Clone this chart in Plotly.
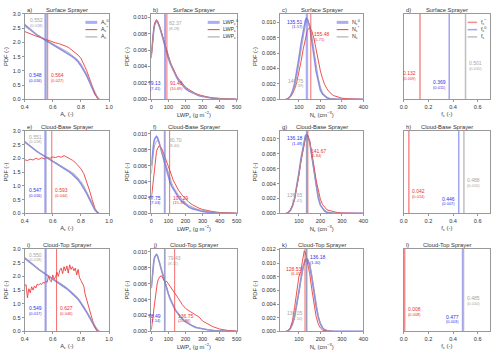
import plotly.graph_objects as go

# ---------------- data ----------------
AC_X = [0.40, 0.42, 0.44, 0.46, 0.48, 0.50, 0.52, 0.54, 0.56, 0.58, 0.60, 0.62, 0.64, 0.66,
        0.68, 0.70, 0.72, 0.74, 0.76, 0.78, 0.80, 0.82, 0.84, 0.86, 0.88, 0.90, 0.92, 0.93]
AC_SURF_0 = [2.62, 2.53, 2.45, 2.37, 2.29, 2.22, 2.16, 2.09, 2.03, 1.98, 1.93, 1.87, 1.81, 1.76,
             1.70, 1.63, 1.57, 1.50, 1.42, 1.32, 1.18, 1.03, 0.84, 0.62, 0.40, 0.18, 0.04, 0.00]
AC_SURF_S = [2.38, 2.33, 2.30, 2.26, 2.22, 2.20, 2.16, 2.12, 2.08, 2.04, 2.00, 1.98, 1.96, 1.93,
             1.89, 1.85, 1.79, 1.72, 1.65, 1.55, 1.44, 1.25, 1.02, 0.75, 0.45, 0.18, 0.04, 0.00]
AC_SURF = [2.56, 2.49, 2.42, 2.35, 2.28, 2.22, 2.16, 2.10, 2.05, 2.00, 1.95, 1.90, 1.85, 1.79,
           1.74, 1.68, 1.61, 1.54, 1.47, 1.37, 1.24, 1.09, 0.90, 0.68, 0.45, 0.22, 0.05, 0.00]
AC_BASE_0 = [2.61, 2.52, 2.44, 2.36, 2.28, 2.21, 2.14, 2.08, 2.01, 1.95, 1.89, 1.83, 1.77, 1.71,
             1.65, 1.58, 1.50, 1.42, 1.33, 1.22, 1.08, 0.92, 0.74, 0.53, 0.32, 0.12, 0.02, 0.00]
AC_BASE_S = [1.95, 1.92, 1.97, 1.94, 2.00, 1.96, 2.02, 1.98, 2.04, 2.00, 2.05, 2.03, 2.07, 2.04,
             2.10, 2.05, 1.98, 1.93, 1.85, 1.75, 1.62, 1.45, 1.18, 0.85, 0.50, 0.18, 0.03, 0.00]
AC_BASE = [2.58, 2.50, 2.43, 2.35, 2.28, 2.21, 2.15, 2.09, 2.03, 1.97, 1.92, 1.86, 1.80, 1.75,
           1.69, 1.63, 1.56, 1.48, 1.40, 1.29, 1.16, 1.00, 0.81, 0.60, 0.38, 0.16, 0.03, 0.00]
AC_TOP_0 = [2.67, 2.58, 2.49, 2.41, 2.33, 2.25, 2.18, 2.11, 2.04, 1.98, 1.92, 1.85, 1.78, 1.71,
            1.63, 1.55, 1.46, 1.37, 1.28, 1.17, 1.02, 0.87, 0.70, 0.52, 0.34, 0.15, 0.03, 0.00]
AC_TOP = [2.64, 2.56, 2.48, 2.40, 2.32, 2.25, 2.18, 2.11, 2.05, 1.99, 1.93, 1.86, 1.80, 1.73,
          1.66, 1.58, 1.50, 1.41, 1.32, 1.21, 1.07, 0.91, 0.74, 0.56, 0.37, 0.17, 0.04, 0.00]
AC_X_FINE = [0.40, 0.41, 0.42, 0.43, 0.44, 0.45, 0.46, 0.47, 0.48, 0.49, 0.50, 0.51, 0.52, 0.53,
             0.54, 0.55, 0.56, 0.57, 0.58, 0.59, 0.60, 0.61, 0.62, 0.63, 0.64, 0.65, 0.66, 0.67,
             0.68, 0.69, 0.70, 0.71, 0.72, 0.73, 0.74, 0.75, 0.76, 0.77, 0.78, 0.79, 0.80, 0.81,
             0.82, 0.83, 0.84, 0.85, 0.86, 0.87, 0.88, 0.89, 0.90, 0.91, 0.92]
AC_TOP_S = [1.65, 1.70, 1.22, 1.55, 1.40, 1.62, 1.50, 1.65, 1.58, 1.72, 1.68, 1.74, 1.70, 1.78,
            1.75, 1.82, 1.78, 2.02, 1.85, 1.80, 2.05, 1.90, 1.98, 2.15, 2.00, 2.22, 2.30, 2.10,
            2.35, 2.20, 2.38, 2.12, 2.42, 2.25, 2.35, 2.20, 2.30, 2.05, 2.25, 1.95, 1.85, 1.75,
            1.65, 1.35, 1.15, 1.00, 0.80, 0.62, 0.45, 0.28, 0.12, 0.04, 0.00]

LWP_X = [0, 5, 10, 15, 20, 25, 30, 35, 40, 45, 50, 60, 70, 80, 90, 100, 110, 120, 130, 140, 150,
         160, 180, 200, 220, 240, 260, 280, 300, 330, 360, 400, 450, 500]
LWP_SURF_0 = [0.0055, 0.0068, 0.0078, 0.0086, 0.0091, 0.0094, 0.0095, 0.0095, 0.0093, 0.0090, 0.0087,
              0.0080, 0.0072, 0.0064, 0.0057, 0.0050, 0.0044, 0.0039, 0.0034, 0.0030, 0.0026, 0.0023,
              0.0018, 0.0013, 0.0010, 0.0008, 0.0006, 0.00045, 0.00035, 0.00022, 0.00014, 0.00007,
              0.00003, 0.00001]
LWP_SURF_S = [0.0050, 0.0065, 0.0077, 0.0087, 0.0093, 0.0096, 0.0097, 0.0096, 0.0094, 0.0091, 0.0088,
              0.0081, 0.0073, 0.0065, 0.0058, 0.0052, 0.0046, 0.0041, 0.0036, 0.0032, 0.0028, 0.0025,
              0.0020, 0.0015, 0.0012, 0.0009, 0.0007, 0.00055, 0.00042, 0.00028, 0.00018, 0.0001,
              0.00004, 0.00002]
LWP_SURF = [0.0053, 0.0066, 0.0077, 0.0086, 0.0091, 0.0094, 0.0095, 0.0095, 0.0093, 0.0090, 0.0087,
            0.0080, 0.0073, 0.0065, 0.0058, 0.0051, 0.0045, 0.0040, 0.0035, 0.0031, 0.0027, 0.0024,
            0.0019, 0.0014, 0.0011, 0.00085, 0.00065, 0.0005, 0.00038, 0.00024, 0.00015, 0.00008,
            0.00003, 0.00001]
LWP_BASE_0 = [0.0060, 0.0073, 0.0083, 0.0090, 0.0094, 0.0096, 0.0097, 0.0096, 0.0094, 0.0090, 0.0086,
              0.0078, 0.0069, 0.0060, 0.0052, 0.0045, 0.0039, 0.0034, 0.0030, 0.0026, 0.0023, 0.0020,
              0.0015, 0.0011, 0.0008, 0.0006, 0.00045, 0.00033, 0.00025, 0.00016, 0.0001, 0.00005,
              0.00002, 0.00001]
LWP_BASE_S = [0.0018, 0.0028, 0.0040, 0.0052, 0.0062, 0.0070, 0.0077, 0.0081, 0.0084, 0.0085, 0.0085,
              0.0082, 0.0077, 0.0071, 0.0064, 0.0058, 0.0052, 0.0046, 0.0041, 0.0037, 0.0033, 0.0029,
              0.0023, 0.0018, 0.0014, 0.0011, 0.00085, 0.00065, 0.0005, 0.00035, 0.00022, 0.00012,
              0.00005, 0.00002]
LWP_BASE = [0.0050, 0.0062, 0.0072, 0.0080, 0.0086, 0.0089, 0.0091, 0.0092, 0.0091, 0.0089, 0.0086,
            0.0079, 0.0071, 0.0063, 0.0056, 0.0049, 0.0043, 0.0038, 0.0033, 0.0029, 0.0026, 0.0023,
            0.0018, 0.0013, 0.0010, 0.00078, 0.0006, 0.00046, 0.00036, 0.00024, 0.00015, 0.00008,
            0.00003, 0.00001]
LWP_TOP_0 = [0.0055, 0.0070, 0.0081, 0.0089, 0.0094, 0.0096, 0.0097, 0.0096, 0.0093, 0.0089, 0.0085,
             0.0077, 0.0069, 0.0061, 0.0054, 0.0047, 0.0041, 0.0036, 0.0031, 0.0027, 0.0024, 0.0021,
             0.0016, 0.0012, 0.0009, 0.0007, 0.0005, 0.0004, 0.0003, 0.0002, 0.00012, 0.00006,
             0.00002, 0.00001]
LWP_TOP_S = [0.0002, 0.0008, 0.0018, 0.0028, 0.0038, 0.0047, 0.0055, 0.0061, 0.0065, 0.0068, 0.0069,
             0.0070, 0.0066, 0.0062, 0.0063, 0.0060, 0.0057, 0.0053, 0.0051, 0.0048, 0.0045, 0.0041,
             0.0034, 0.0029, 0.0026, 0.0023, 0.0020, 0.0018, 0.0013, 0.0009, 0.0006, 0.0003,
             0.0001, 0.00004]
LWP_TOP = [0.0054, 0.0068, 0.0080, 0.0088, 0.0093, 0.0095, 0.0096, 0.0096, 0.0093, 0.0089, 0.0085,
           0.0077, 0.0069, 0.0062, 0.0055, 0.0048, 0.0042, 0.0037, 0.0032, 0.0028, 0.0025, 0.0022,
           0.0017, 0.0013, 0.0010, 0.00075, 0.00055, 0.00042, 0.00032, 0.00021, 0.00013, 0.00007,
           0.00003, 0.00001]

NC_X = [40, 50, 60, 70, 80, 90, 100, 110, 120, 130, 135, 140, 150, 160, 170, 180, 190, 200, 210,
        220, 230, 240, 260, 280, 300, 320, 350, 380, 400]
NC_SURF_0 = [0, 0.0001, 0.0004, 0.0010, 0.0020, 0.0035, 0.0053, 0.0072, 0.0090, 0.0102, 0.0105,
             0.0104, 0.0095, 0.0078, 0.0057, 0.0037, 0.0022, 0.0012, 0.0007, 0.0004, 0.0002, 0.0001,
             0.00003, 0, 0, 0, 0, 0, 0]
NC_SURF_S = [0, 0.0001, 0.0003, 0.0007, 0.0013, 0.0022, 0.0034, 0.0049, 0.0065, 0.0080, 0.0086,
             0.0090, 0.0093, 0.0089, 0.0079, 0.0065, 0.0050, 0.0037, 0.0027, 0.0019, 0.0014, 0.0010,
             0.0005, 0.0003, 0.00015, 0.00008, 0.00003, 0.00001, 0]
NC_SURF = [0, 0.0001, 0.0003, 0.0008, 0.0016, 0.0029, 0.0046, 0.0065, 0.0083, 0.0097, 0.0101,
           0.0102, 0.0097, 0.0083, 0.0064, 0.0044, 0.0028, 0.0016, 0.0009, 0.0005, 0.0003, 0.00015,
           0.00005, 0, 0, 0, 0, 0, 0]
NC_BASE_0 = [0, 0.0001, 0.0004, 0.0010, 0.0020, 0.0035, 0.0054, 0.0074, 0.0092, 0.0104, 0.0106,
             0.0105, 0.0096, 0.0078, 0.0056, 0.0036, 0.0021, 0.0011, 0.0006, 0.0003, 0.00015, 0.00008,
             0.00002, 0, 0, 0, 0, 0, 0]
NC_BASE_S = [0, 0.0001, 0.0004, 0.0010, 0.0019, 0.0033, 0.0051, 0.0070, 0.0088, 0.0100, 0.0104,
             0.0105, 0.0098, 0.0083, 0.0064, 0.0045, 0.0030, 0.0019, 0.0012, 0.0008, 0.0005, 0.0004,
             0.0002, 0.0001, 0.00005, 0.00002, 0.00001, 0, 0]
NC_BASE = [0, 0.0001, 0.0004, 0.0010, 0.0019, 0.0034, 0.0052, 0.0072, 0.0090, 0.0103, 0.0105,
           0.0105, 0.0097, 0.0080, 0.0058, 0.0038, 0.0023, 0.0012, 0.0007, 0.0004, 0.0002, 0.0001,
           0.00003, 0, 0, 0, 0, 0, 0]
NC_TOP_0 = [0, 0.0001, 0.0004, 0.0011, 0.0022, 0.0038, 0.0058, 0.0078, 0.0095, 0.0105, 0.0106,
            0.0105, 0.0097, 0.0079, 0.0057, 0.0037, 0.0021, 0.0011, 0.0005, 0.0002, 0.0001, 0.00005,
            0.00001, 0, 0, 0, 0, 0, 0]
NC_TOP = [0, 0.0001, 0.0004, 0.0010, 0.0020, 0.0036, 0.0056, 0.0076, 0.0093, 0.0104, 0.0107,
          0.0107, 0.0100, 0.0083, 0.0061, 0.0040, 0.0023, 0.0012, 0.0006, 0.0003, 0.00015, 0.00007,
          0.00002, 0, 0, 0, 0, 0, 0]
NC_TOP_S_X = [40, 50, 60, 70, 80, 90, 100, 105, 110, 115, 120, 125, 130, 135, 140, 150, 160, 170,
              180, 190, 200, 210, 220, 240, 260]
NC_TOP_S = [0, 0.0001, 0.0005, 0.0015, 0.0035, 0.0062, 0.0080, 0.0085, 0.0088, 0.0100, 0.0112,
            0.0118, 0.0116, 0.0108, 0.0102, 0.0085, 0.0062, 0.0040, 0.0022, 0.0011, 0.0005, 0.0002,
            0.0001, 0.00002, 0]

# means and standard deviations, order: [^0 (blue), ^* (red), plain (gray)]
A_MEAN_SURF, A_STD_SURF = [0.548, 0.564, 0.552], [0.016, 0.027, 0.018]
A_MEAN_BASE, A_STD_BASE = [0.547, 0.593, 0.551], [0.016, 0.044, 0.018]
A_MEAN_TOP, A_STD_TOP = [0.549, 0.627, 0.550], [0.017, 0.046, 0.018]
L_MEAN_SURF, L_STD_SURF = [79.13, 91.43, 82.37], [7.41, 10.69, 8.28]
L_MEAN_BASE, L_STD_BASE = [77.75, 107.29, 80.70], [7.03, 15.33, 8.40]
L_MEAN_TOP, L_STD_TOP = [78.49, 136.75, 79.43], [7.14, 20.86, 8.11]
N_MEAN_SURF, N_STD_SURF = [135.51, 155.48, 140.75], [1.57, 5.71, 1.39]
N_MEAN_BASE, N_STD_BASE = [136.18, 141.67, 136.65], [1.48, 5.84, 1.41]
N_MEAN_TOP, N_STD_TOP = [136.18, 128.53, 136.05], [1.40, 6.45, 1.50]
F_MEAN_SURF, F_STD_SURF = [0.369, 0.132, 0.501], [0.011, 0.009, 0.010]
F_MEAN_BASE, F_STD_BASE = [0.446, 0.042, 0.488], [0.007, 0.014, 0.010]
F_MEAN_TOP, F_STD_TOP = [0.477, 0.008, 0.485], [0.003, 0.008, 0.010]

ROW_TITLES = ["Surface Sprayer", "Cloud-Base Sprayer", "Cloud-Top Sprayer"]
PANEL_LETTERS = ["a)", "b)", "c)", "d)", "e)", "f)", "g)", "h)", "i)", "j)", "k)", "l)"]
X_TITLES = ["A<sub>c</sub> (-)", "LWP<sub>c</sub> (g m<sup>−2</sup>)",
            "N<sub>c</sub> (cm<sup>−3</sup>)", "f<sub>c</sub> (-)"]
LEGEND_A = ["A<sub>c</sub><sup>0</sup>", "A<sub>c</sub><sup>*</sup>", "A<sub>c</sub>"]
LEGEND_L = ["LWP<sub>c</sub><sup>0</sup>", "LWP<sub>c</sub><sup>*</sup>", "LWP<sub>c</sub>"]
LEGEND_N = ["N<sub>c</sub><sup>0</sup>", "N<sub>c</sub><sup>*</sup>", "N<sub>c</sub>"]
LEGEND_F = ["f<sub>c</sub><sup>*</sup>", "f<sub>c</sub><sup>0</sup>", "f<sub>c</sub>"]

# ---------------- styling ----------------
W, H = 500, 357
FONT = "Liberation Sans, Arial, sans-serif"
COLS = [(21, 107), (150, 237), (281, 366), (407, 495)]
ROWS = [(11, 98), (130, 214), (250, 334)]
C_BLUE = "rgba(60,60,230,0.6)"
C_RED = "rgb(240,60,60)"
C_GRAY = "rgb(160,160,160)"
V_BLUE = "rgba(90,90,235,0.5)"
V_RED = "rgba(240,60,60,0.75)"
V_GRAY = "rgba(150,150,150,0.7)"
T_BLUE = "rgb(50,50,235)"
T_RED = "rgb(235,50,50)"
T_GRAY = "rgb(165,165,165)"
FRAME = "#999999"
TXT = "#333333"
FS_TICK, FS_AXT, FS_TTL, FS_VAL, FS_STD, FS_LEG = 5.6, 5.8, 5.8, 5.0, 4.0, 5.3

fig = go.Figure()


def names(k):
    s = "" if k == 0 else str(k + 1)
    return "x" + s, "y" + s


layout_axes = {}


def setup_axes(k, r, c, xr, xtv, xfmt, yr, ytv, yfmt, ylab=True):
    xn, yn = names(k)
    common = dict(showline=True, mirror=True, linecolor=FRAME, linewidth=1, showgrid=False,
                  zeroline=False, ticks="outside", ticklen=2, tickcolor=FRAME,
                  tickfont=dict(size=FS_TICK, color=TXT, family=FONT))
    xa = dict(common, domain=[COLS[c][0] / W, COLS[c][1] / W], range=xr, tickvals=xtv,
              ticktext=[format(v, xfmt) for v in xtv], anchor=yn,
              title=dict(text=X_TITLES[c], font=dict(size=FS_AXT, color=TXT, family=FONT), standoff=2))
    ya = dict(common, domain=[1 - ROWS[r][1] / H, 1 - ROWS[r][0] / H], range=yr, anchor=xn)
    if ylab:
        ya.update(tickvals=ytv, ticktext=[format(v, yfmt) for v in ytv],
                  title=dict(text="PDF (-)", font=dict(size=FS_AXT, color=TXT, family=FONT), standoff=3))
    else:
        ya.update(showticklabels=False, ticks="")
    key = "" if k == 0 else str(k + 1)
    layout_axes["xaxis" + key] = xa
    layout_axes["yaxis" + key] = ya


def add_curve(k, x, y, color, width):
    xn, yn = names(k)
    fig.add_trace(go.Scatter(x=x, y=y, mode="lines", line=dict(color=color, width=width),
                             xaxis=xn, yaxis=yn, hoverinfo="skip", showlegend=False))


def add_vline(k, m, ymax, color, width):
    xn, yn = names(k)
    fig.add_trace(go.Scatter(x=[m, m], y=[0, ymax], mode="lines", line=dict(color=color, width=width),
                             xaxis=xn, yaxis=yn, hoverinfo="skip", showlegend=False))


def add_label(k, m, s, dec, color, side, yf):
    xn, yn = names(k)
    xa = "right" if side == "L" else "left"
    sh = -1.5 if side == "L" else 1.5
    fig.add_annotation(x=m, y=yf, xref=xn, yref=yn + " domain", text=format(m, "." + str(dec) + "f"),
                       showarrow=False, xanchor=xa, yanchor="middle", xshift=sh,
                       font=dict(size=FS_VAL, color=color, family=FONT))
    fig.add_annotation(x=m, y=yf - 0.062, xref=xn, yref=yn + " domain",
                       text="(" + format(s, "." + str(dec) + "f") + ")",
                       showarrow=False, xanchor=xa, yanchor="middle", xshift=sh,
                       font=dict(size=FS_STD, color=color, family=FONT))


def add_legend(k, labels, styles, x0, x1):
    xn, yn = names(k)
    for i, (lab, (col, wid)) in enumerate(zip(labels, styles)):
        y = 0.90 - 0.085 * i
        fig.add_shape(type="line", xref=xn + " domain", yref=yn + " domain", x0=x0, x1=x1, y0=y, y1=y,
                      line=dict(color=col, width=wid))
        fig.add_annotation(x=x1 + 0.02, y=y, xref=xn + " domain", yref=yn + " domain", text=lab,
                           showarrow=False, xanchor="left", yanchor="middle",
                           font=dict(size=FS_LEG, color=TXT, family=FONT))


def add_titles(k, r):
    xn, yn = names(k)
    fig.add_annotation(x=0, y=1, xref=xn + " domain", yref=yn + " domain", text=PANEL_LETTERS[k],
                       showarrow=False, xanchor="left", yanchor="bottom", yshift=-1,
                       font=dict(size=FS_TTL, color=TXT, family=FONT))
    fig.add_annotation(x=0.5, y=1, xref=xn + " domain", yref=yn + " domain", text=ROW_TITLES[r],
                       showarrow=False, xanchor="center", yanchor="bottom", yshift=-1,
                       font=dict(size=FS_TTL, color=TXT, family=FONT))


A_ROWS = [(AC_X, AC_SURF_0, AC_X, AC_SURF_S, AC_SURF, A_MEAN_SURF, A_STD_SURF),
          (AC_X, AC_BASE_0, AC_X, AC_BASE_S, AC_BASE, A_MEAN_BASE, A_STD_BASE),
          (AC_X, AC_TOP_0, AC_X_FINE, AC_TOP_S, AC_TOP, A_MEAN_TOP, A_STD_TOP)]
L_ROWS = [(LWP_SURF_0, LWP_SURF_S, LWP_SURF, L_MEAN_SURF, L_STD_SURF),
          (LWP_BASE_0, LWP_BASE_S, LWP_BASE, L_MEAN_BASE, L_STD_BASE),
          (LWP_TOP_0, LWP_TOP_S, LWP_TOP, L_MEAN_TOP, L_STD_TOP)]
N_ROWS = [(NC_SURF_0, NC_X, NC_SURF_S, NC_SURF, N_MEAN_SURF, N_STD_SURF),
          (NC_BASE_0, NC_X, NC_BASE_S, NC_BASE, N_MEAN_BASE, N_STD_BASE),
          (NC_TOP_0, NC_TOP_S_X, NC_TOP_S, NC_TOP, N_MEAN_TOP, N_STD_TOP)]
F_ROWS = [(F_MEAN_SURF, F_STD_SURF), (F_MEAN_BASE, F_STD_BASE), (F_MEAN_TOP, F_STD_TOP)]

# label placement: (side, y-fraction) for [blue, red, gray]
POS_A = [("L", 0.28), ("R", 0.28), ("L", 0.93)]
POS_L = [("L", 0.19), ("R", 0.19), ("R", 0.89)]
POS_N = [[("L", 0.91), ("R", 0.76), ("L", 0.22)],
         [("L", 0.91), ("R", 0.76), ("L", 0.22)],
         [("R", 0.90), ("L", 0.76), ("L", 0.22)]]
POS_F = [[("L", 0.20), ("L", 0.31), ("R", 0.42)],
         [("L", 0.18), ("R", 0.27), ("R", 0.40)],
         [("L", 0.18), ("R", 0.27), ("R", 0.40)]]

for r in range(3):
    # ---- A_c ----
    k = r * 4
    ax, a0, axs, asv, ag, am, asd = A_ROWS[r]
    ymax = 3.0
    setup_axes(k, r, 0, [0.4, 1.0], [0.4, 0.6, 0.8, 1.0], ".1f", [0, ymax],
               [0, 0.5, 1.0, 1.5, 2.0, 2.5, 3.0], ".1f")
    add_curve(k, ax, a0, C_BLUE, 1.6)
    add_curve(k, axs, asv, C_RED, 0.9)
    add_curve(k, ax, ag, C_GRAY, 0.8)
    for m, col, w in zip(am, [V_BLUE, V_RED, V_GRAY], [2.2, 1.0, 1.0]):
        add_vline(k, m, ymax, col, w)
    for m, s, col, (sd, yf) in zip(am, asd, [T_BLUE, T_RED, T_GRAY], POS_A):
        add_label(k, m, s, 3, col, sd, yf)
    add_titles(k, r)
    if r == 0:
        add_legend(k, LEGEND_A, [(V_BLUE, 3), (C_RED, 1), (C_GRAY, 1)], 0.72, 0.86)

    # ---- LWP_c ----
    k = r * 4 + 1
    l0, ls, lg, lm, lsd = L_ROWS[r]
    ymax = 0.0104
    setup_axes(k, r, 1, [0, 500], [0, 100, 200, 300, 400, 500], "d", [0, ymax],
               [0, 0.002, 0.004, 0.006, 0.008, 0.010], ".3f")
    add_curve(k, LWP_X, l0, C_BLUE, 1.6)
    add_curve(k, LWP_X, ls, C_RED, 0.9)
    add_curve(k, LWP_X, lg, C_GRAY, 0.8)
    for m, col, w in zip(lm, [V_BLUE, V_RED, V_GRAY], [1.6, 1.0, 1.0]):
        add_vline(k, m, ymax, col, w)
    for m, s, col, (sd, yf) in zip(lm, lsd, [T_BLUE, T_RED, T_GRAY], POS_L):
        add_label(k, m, s, 2, col, sd, yf)
    add_titles(k, r)
    if r == 0:
        add_legend(k, LEGEND_L, [(V_BLUE, 3), (C_RED, 1), (C_GRAY, 1)], 0.66, 0.80)

    # ---- N_c ----
    k = r * 4 + 2
    n0, nsx, ns, ng, nm, nsd = N_ROWS[r]
    ymax = 0.0121 if r == 2 else 0.0111
    ytv = [0, 0.002, 0.004, 0.006, 0.008, 0.010] + ([0.012] if r == 2 else [])
    setup_axes(k, r, 2, [12, 400], [100, 200, 300, 400], "d", [0, ymax], ytv, ".3f")
    add_curve(k, NC_X, n0, C_BLUE, 1.6)
    add_curve(k, nsx, ns, C_RED, 0.9)
    add_curve(k, NC_X, ng, C_GRAY, 0.8)
    for m, col, w in zip(nm, [V_BLUE, V_RED, V_GRAY], [1.6, 1.0, 1.0]):
        add_vline(k, m, ymax, col, w)
    for m, s, col, (sd, yf) in zip(nm, nsd, [T_BLUE, T_RED, T_GRAY], POS_N[r]):
        add_label(k, m, s, 2, col, sd, yf)
    add_titles(k, r)
    if r == 0:
        add_legend(k, LEGEND_N, [(V_BLUE, 3), (C_RED, 1), (C_GRAY, 1)], 0.68, 0.82)

    # ---- f_c ----
    k = r * 4 + 3
    fm, fsd = F_ROWS[r]
    ymax = 1.0
    setup_axes(k, r, 3, [0, 0.7], [0.0, 0.2, 0.4, 0.6], ".1f", [0, ymax], [], "", ylab=False)
    for m, col, w in zip(fm, ["rgba(90,90,235,0.55)", "rgba(245,110,110,0.8)", "rgba(175,175,175,0.8)"],
                         [1.5, 1.5, 1.5]):
        add_vline(k, m, ymax, col, w)
    for m, s, col, (sd, yf) in zip(fm, fsd, [T_BLUE, T_RED, T_GRAY], POS_F[r]):
        add_label(k, m, s, 3, col, sd, yf)
    add_titles(k, r)
    if r == 0:
        add_legend(k, LEGEND_F, [("rgba(245,110,110,0.8)", 1.5), ("rgba(90,90,235,0.55)", 1.5),
                                 ("rgba(175,175,175,0.8)", 1.5)], 0.74, 0.85)

fig.update_layout(width=W, height=H, margin=dict(l=0, r=0, t=0, b=0),
                  paper_bgcolor="white", plot_bgcolor="white", showlegend=False,
                  font=dict(family=FONT, size=6, color=TXT), **layout_axes)

fig.write_html("out.html")
